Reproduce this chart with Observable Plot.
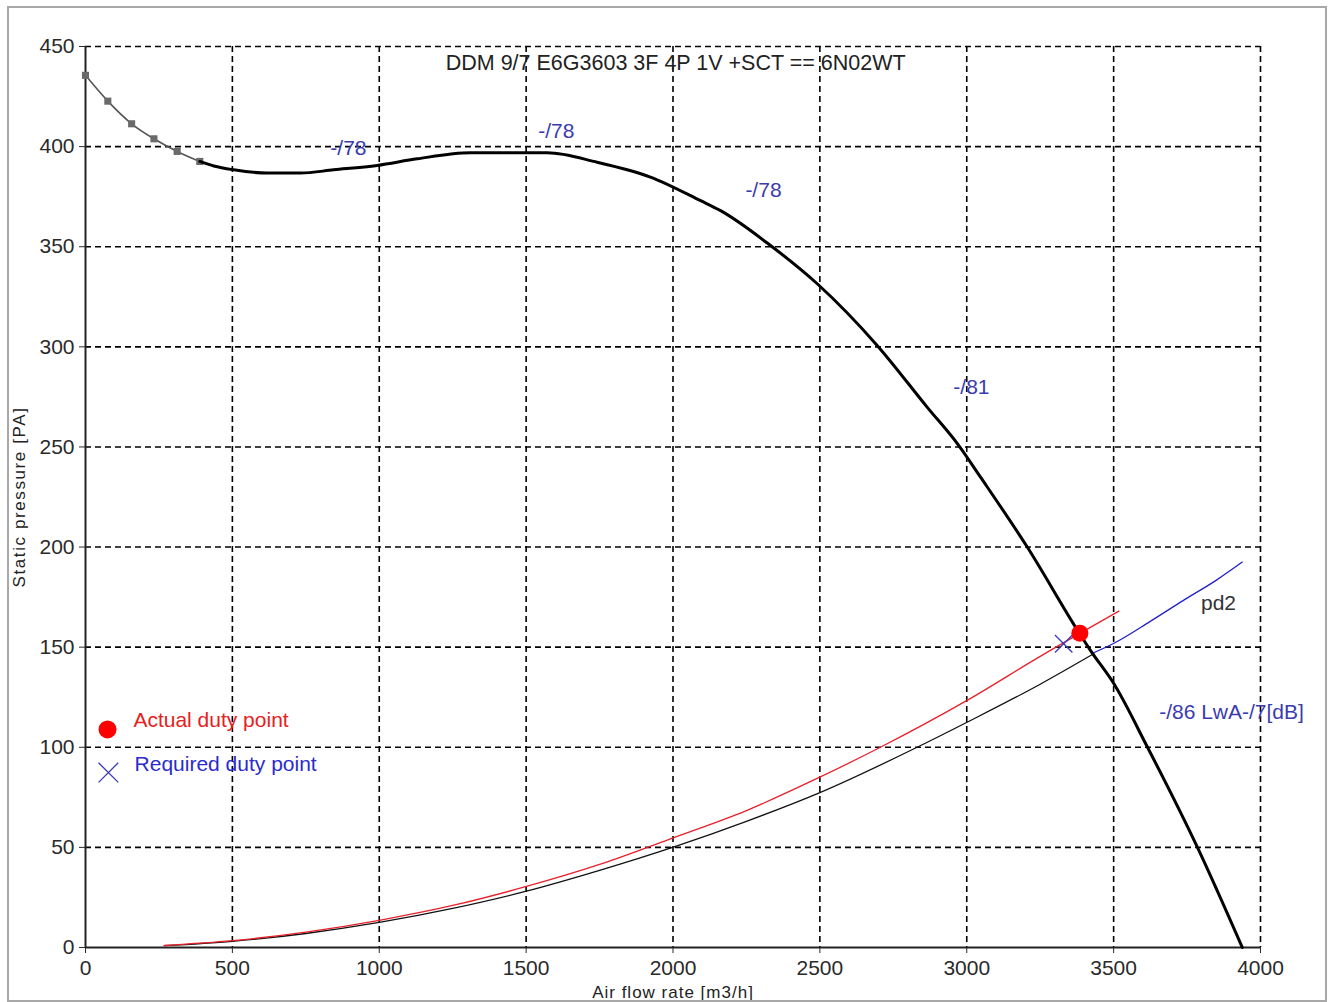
<!DOCTYPE html>
<html>
<head>
<meta charset="utf-8">
<script src="https://cdn.jsdelivr.net/npm/d3@7"></script>
<script src="https://cdn.jsdelivr.net/npm/@observablehq/plot@0.6"></script>
<style>
  html, body { margin: 0; padding: 0; background: #fff; }
  #wrap { position: relative; width: 1328px; height: 1002px; }
  #frame { position: absolute; left: 7px; top: 6px; width: 1316px; height: 992px; border: 2px solid #a8a8a8; pointer-events: none; }
  #chart { position: absolute; left: 0; top: 0; }
</style>
</head>
<body>
<div id="wrap"><div id="chart"></div><div id="frame"></div></div>
<script>
// ---- Data ----
const title = "DDM 9/7 E6G3603 3F 4P 1V +SCT == 6N02WT";
const xTicks = [0, 500, 1000, 1500, 2000, 2500, 3000, 3500, 4000];
const yTicks = [0, 50, 100, 150, 200, 250, 300, 350, 400, 450];

// start of fan curve (grey, with markers)
const fanStartFlow = [0, 76, 157, 233, 312, 389];
const fanStartPressure = [435.6, 422.7, 411.4, 403.9, 397.6, 392.6];

// fan curve (thick black)
const fanFlow = [389, 437, 505, 619, 732, 845, 993, 1129, 1311, 1504, 1572, 1742, 1923, 2094, 2162, 2332, 2491, 2695, 2865, 2973, 3047, 3206, 3381, 3421, 3501, 3614, 3785, 3938];
const fanPressure = [392.6, 390.3, 388.4, 386.8, 386.8, 388.4, 390.6, 393.9, 396.9, 396.9, 396.9, 392.2, 384.8, 373, 368, 350.6, 331.5, 300.7, 269.9, 250.7, 234.9, 200, 157.5, 148.4, 131.7, 100.4, 50.1, 0];

// actual system curve (red)
const sysActFlow = [268, 500, 750, 1000, 1250, 1501, 1750, 2001, 2250, 2496, 2706, 3001, 3250, 3518];
const sysActPressure = [1.0, 3.4, 7.7, 13.6, 21.0, 30.5, 41.5, 54.8, 68.4, 84.8, 100, 123.4, 145.4, 168];

// required system curve (black, continuing in blue as pd2)
const sysReqFlow = [268, 500, 750, 1000, 1250, 1501, 1750, 2001, 2250, 2496, 2831, 3001, 3250, 3432];
const sysReqPressure = [0.9, 3.1, 7.0, 12.5, 19.5, 28.1, 38.5, 50.1, 63, 77.1, 100, 112.5, 131.5, 146.7];
const pd2Flow = [3432, 3498, 3626, 3739, 3850, 3938];
const pd2Pressure = [147.2, 151.7, 163, 173.5, 183.5, 192.5];

// duty points
const actualDuty = {flow: 3385, pressure: 157};
const requiredDuty = {flow: 3330, pressure: 151.7};

// blue annotations
const noteText = ["-/78", "-/78", "-/78", "-/81"];
const noteFlow = [895, 1603, 2308, 3016];
const notePressure = [399, 407.6, 378, 279.7];
const lwaText = "-/86 LwA-/7[dB]";
const lwaPos = {flow: 3655, pressure: 117.4};
const pd2Label = {text: "pd2", flow: 3857, pressure: 171.8};

// legend
const legendDot = {flow: 75, pressure: 108.9};
const legendCross = {flow: 78, pressure: 87.4};
const legendText = ["Actual duty point", "Required duty point"];
const legendTextFlow = [163, 167];
const legendTextPressure = [113.4, 91.4];
const legendColors = ["#e82020", "#2b2bd0"];

const xLabel = "Air flow rate [m3/h]";
const yLabel = "Static pressure [PA]";

// ---- Build tables ----
const zip = (xs, ys) => xs.map((x, i) => ({x, y: ys[i]}));
const fanStart = zip(fanStartFlow, fanStartPressure);
const fan = zip(fanFlow, fanPressure);
const sysAct = zip(sysActFlow, sysActPressure);
const sysReq = zip(sysReqFlow, sysReqPressure);
const pd2 = zip(pd2Flow, pd2Pressure);
const notes = noteText.map((t, i) => ({t, x: noteFlow[i], y: notePressure[i]}));
const legend = legendText.map((t, i) => ({t, x: legendTextFlow[i], y: legendTextPressure[i], c: legendColors[i]}));

const font = "'Liberation Sans', Arial, sans-serif";
const grid = {stroke: "#000", strokeOpacity: 1, strokeWidth: 1.6, strokeDasharray: "6,4"};

const chart = Plot.plot({
  width: 1328,
  height: 1002,
  marginLeft: 85,
  marginRight: 68,
  marginTop: 46,
  marginBottom: 55,
  style: {fontFamily: font, background: "transparent"},
  x: {domain: [0, 4000]},
  y: {domain: [0, 450]},
  marks: [
    Plot.gridX(xTicks.filter(d => d > 0), grid),
    Plot.gridY(yTicks.filter(d => d > 0), grid),
    Plot.axisX({ticks: xTicks, tickSize: 6, tickPadding: 7, fontSize: 21, color: "#2a2a2a", label: null, tickFormat: d => String(d)}),
    Plot.axisY({ticks: yTicks, tickSize: 6, tickPadding: 5, fontSize: 21, color: "#2a2a2a", label: null, tickFormat: d => String(d)}),
    Plot.ruleX([0], {stroke: "#222", strokeWidth: 2}),
    Plot.ruleY([0], {stroke: "#222", strokeWidth: 2}),
    Plot.text([xLabel], {frameAnchor: "bottom", dy: 45, fontSize: 17, fill: "#222", textAnchor: "middle"}),
    Plot.text([yLabel], {frameAnchor: "left", dx: -66, rotate: -90, fontSize: 17, fill: "#222", textAnchor: "middle"}),
    // system curves
    Plot.line(sysReq, {x: "x", y: "y", stroke: "#111", strokeWidth: 1.3, curve: "monotone-x"}),
    Plot.line(sysAct, {x: "x", y: "y", stroke: "#e8202a", strokeWidth: 1.3, curve: "monotone-x"}),
    Plot.line(pd2, {x: "x", y: "y", stroke: "#2020c8", strokeWidth: 1.3, curve: "monotone-x"}),
    // fan curve
    Plot.line(fanStart, {x: "x", y: "y", stroke: "#555", strokeWidth: 1.6, curve: "monotone-x"}),
    Plot.dot(fanStart, {x: "x", y: "y", symbol: "square", r: 4, fill: "#6a6a6a"}),
    Plot.line(fan, {x: "x", y: "y", stroke: "#000", strokeWidth: 3, curve: "monotone-x"}),
    // duty points
    Plot.dot([requiredDuty], {x: "flow", y: "pressure", symbol: "times", r: 8, stroke: "#3a3ab8", strokeWidth: 1.3}),
    Plot.dot([actualDuty], {x: "flow", y: "pressure", r: 8.5, fill: "#ff0000"}),
    // annotations
    Plot.text([title], {x: 2009, y: 441.6, fontSize: 21.5, fill: "#222"}),
    Plot.text(notes, {x: "x", y: "y", text: "t", fontSize: 21, fill: "#3b3bb0"}),
    Plot.text([lwaText], {x: lwaPos.flow, y: lwaPos.pressure, textAnchor: "start", fontSize: 21, fill: "#3b3bb0"}),
    Plot.text([pd2Label], {x: "flow", y: "pressure", text: "text", fontSize: 21, fill: "#333"}),
    // legend
    Plot.dot([legendDot], {x: "flow", y: "pressure", r: 9, fill: "#ff0000"}),
    Plot.dot([legendCross], {x: "flow", y: "pressure", symbol: "times", r: 9, stroke: "#3a3ab8", strokeWidth: 1.3}),
    Plot.text(legend, {x: "x", y: "y", text: "t", fill: "c", textAnchor: "start", fontSize: 21})
  ]
});
// wider letter spacing of the small axis titles, as in the reference
d3.select(chart).selectAll("text")
  .filter(function() { return this.textContent === xLabel; })
  .attr("letter-spacing", "1px").attr("dy", "0.32em");
d3.select(chart).selectAll("text")
  .filter(function() { return this.textContent === yLabel; })
  .attr("letter-spacing", "1.6px");
document.getElementById("chart").appendChild(chart);
</script>
</body>
</html>
